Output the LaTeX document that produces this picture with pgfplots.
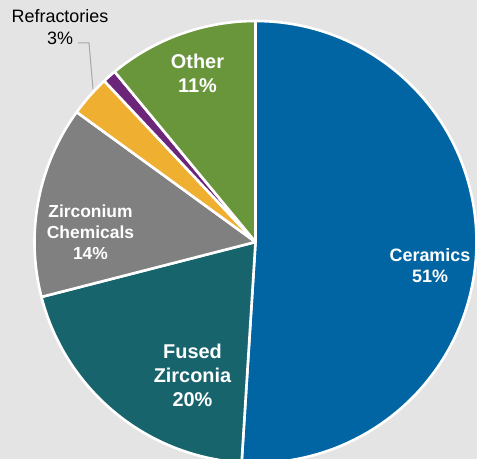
\documentclass[border=0pt]{standalone}
\usepackage{pgfplots}
\usepackage{pgfplotstable}
\pgfplotsset{compat=1.18}
\usepackage{fontspec}
\setmainfont{Liberation Sans}
\definecolor{bg}{HTML}{E4E4E4}
\definecolor{cCer}{HTML}{0065A2}
\definecolor{cFus}{HTML}{17646D}
\definecolor{cChem}{HTML}{808080}
\definecolor{cRef}{HTML}{EFB032}
\definecolor{cPur}{HTML}{6B2579}
\definecolor{cOth}{HTML}{69953B}
\definecolor{lead}{HTML}{A6A6A6}

\pgfplotstableread{
name pct
Ceramics 51
FusedZirconia 20
ZirconiumChemicals 14
Refractories 3
Unlabelled 1
Other 11
}\piedata

\newcommand\getpct[2]{\pgfplotstablegetelem{#1}{pct}\of\piedata\let#2\pgfplotsretval}
\newcommand\slice[3]{\fill[#3, draw=white, line width=2.6bp, line join=round]
  (axis cs:255.5,217) -- ++(#1:221bp) arc[start angle=#1, end angle=#2, radius=221bp] -- cycle;}

\begin{document}
\begin{tikzpicture}
\getpct{0}\pA \getpct{1}\pB \getpct{2}\pC \getpct{3}\pD \getpct{4}\pE \getpct{5}\pF
\pgfmathsetmacro\aA{90}
\pgfmathsetmacro\aB{\aA-3.6*\pA}
\pgfmathsetmacro\aC{\aB-3.6*\pB}
\pgfmathsetmacro\aD{\aC-3.6*\pC}
\pgfmathsetmacro\aE{\aD-3.6*\pD}
\pgfmathsetmacro\aF{\aE-3.6*\pE}
\pgfmathsetmacro\aG{\aF-3.6*\pF}
\begin{axis}[
  hide axis, scale only axis,
  width=477bp, height=459bp,
  xmin=0, xmax=477, ymin=0, ymax=459,
  clip=true,
]
\fill[bg] (axis cs:0,0) rectangle (axis cs:477,459);
\slice{\aA}{\aB}{cCer}
\slice{\aB}{\aC}{cFus}
\slice{\aC}{\aD}{cChem}
\slice{\aD}{\aE}{cRef}
\slice{\aE}{\aF}{cPur}
\slice{\aF}{\aG}{cOth}
\node[white, font=\bfseries\fontsize{20}{24.5}\selectfont, align=center, inner sep=0pt]
  at (axis cs:192.5,83.6) {Fused\\Zirconia\\\pB\%};
\node[white, font=\bfseries\fontsize{20}{25}\selectfont, align=center, inner sep=0pt]
  at (axis cs:197.5,385.6) {Other\\\pF\%};
\node[white, font=\bfseries\fontsize{18}{21}\selectfont, align=center, inner sep=0pt]
  at (axis cs:430,193.3) {Ceramics\\\pA\%};
\node[white, font=\bfseries\fontsize{17.5}{21}\selectfont, align=center, inner sep=0pt]
  at (axis cs:90.5,226.4) {Zirconium\\Chemicals\\\pC\%};
\node[black, font=\fontsize{18}{22.3}\selectfont, align=center, inner sep=0pt]
  at (axis cs:60,431.6) {Refractories\\\pD\%};
\draw[lead, line width=1bp] (axis cs:78,416) -- (axis cs:89,416) -- (axis cs:93,370);
\end{axis}
\pgfresetboundingbox
\path (current axis.south west) rectangle (current axis.north east);
\end{tikzpicture}
\end{document}
